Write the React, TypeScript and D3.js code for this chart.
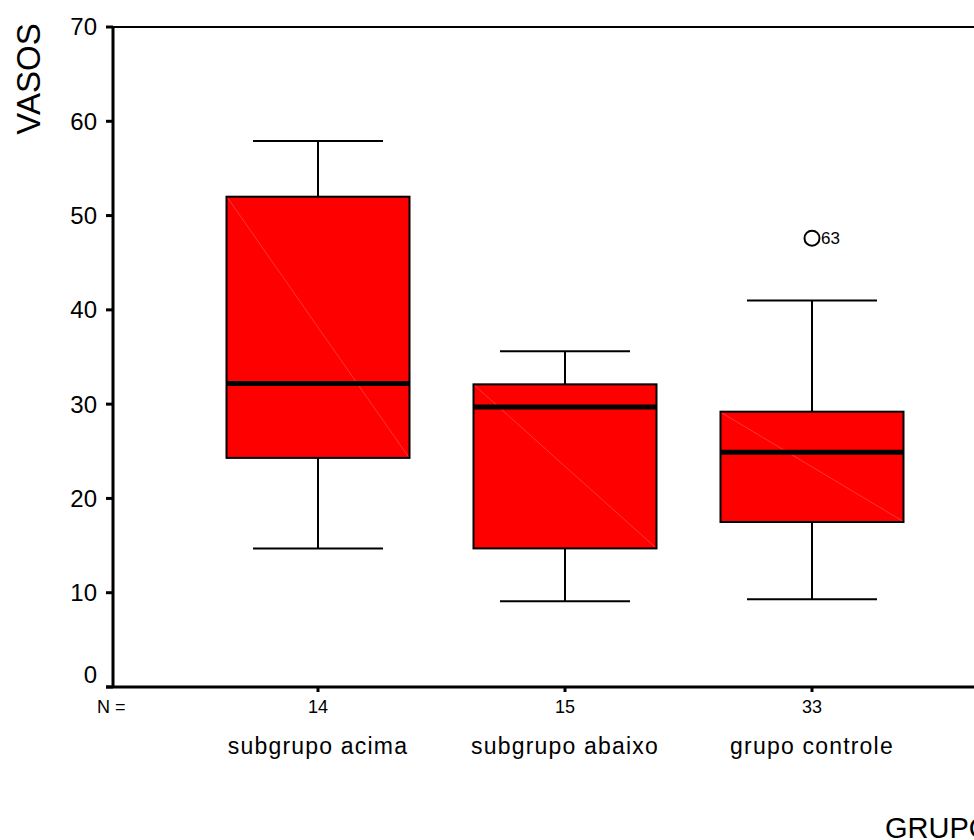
import { useEffect, useRef } from "react";
import * as d3 from "d3";

const groups = ["subgrupo acima", "subgrupo abaixo", "grupo controle"];
const counts = [14, 15, 33];
const whiskerLow = [14.7, 9.1, 9.3];
const q1 = [24.3, 14.7, 17.5];
const medians = [32.2, 29.7, 24.9];
const q3 = [52.0, 32.1, 29.2];
const whiskerHigh = [57.9, 35.6, 41.0];
const outliers = [{ group: "grupo controle", value: 47.6, label: "63" }];
const yTicks = [0, 10, 20, 30, 40, 50, 60, 70];

export default function App() {
  const svgRef = useRef<SVGSVGElement>(null);

  useEffect(() => {
    const svg = d3.select(svgRef.current);
    svg.selectAll("*").remove();

    const font = "'Liberation Sans', Arial, sans-serif";
    const y = d3.scaleLinear().domain([0, 70]).range([687, 27]);
    const x = d3.scalePoint().domain(groups).range([113, 1017]).padding(0.83);
    const boxW = 183;
    const capW = 130;

    const data = groups.map((g, i) => ({
      g, n: counts[i], lo: whiskerLow[i], q1: q1[i], med: medians[i], q3: q3[i], hi: whiskerHigh[i],
    }));

    // frame: top line
    svg.append("line")
      .attr("x1", 113).attr("x2", 974)
      .attr("y1", y(70)).attr("y2", y(70))
      .attr("stroke", "#000").attr("stroke-width", 2);

    // whiskers
    const wg = svg.append("g").attr("stroke", "#000").attr("stroke-width", 2);
    data.forEach(d => {
      const cx = x(d.g)!;
      wg.append("line").attr("x1", cx).attr("x2", cx).attr("y1", y(d.hi)).attr("y2", y(d.q3));
      wg.append("line").attr("x1", cx).attr("x2", cx).attr("y1", y(d.q1)).attr("y2", y(d.lo));
      wg.append("line").attr("x1", cx - capW / 2).attr("x2", cx + capW / 2).attr("y1", y(d.hi)).attr("y2", y(d.hi));
      wg.append("line").attr("x1", cx - capW / 2).attr("x2", cx + capW / 2).attr("y1", y(d.lo)).attr("y2", y(d.lo));
    });

    // boxes
    data.forEach(d => {
      const cx = x(d.g)!;
      svg.append("rect")
        .attr("x", cx - boxW / 2).attr("y", y(d.q3))
        .attr("width", boxW).attr("height", y(d.q1) - y(d.q3))
        .attr("fill", "#ff0000").attr("stroke", "#000").attr("stroke-width", 2);
      svg.append("line")
        .attr("x1", cx - boxW / 2 + 1).attr("y1", y(d.q3) + 1)
        .attr("x2", cx + boxW / 2 - 1).attr("y2", y(d.q1) - 1)
        .attr("stroke", "#ff8080").attr("stroke-width", 0.6).attr("opacity", 0.7);
      svg.append("line")
        .attr("x1", cx - boxW / 2).attr("x2", cx + boxW / 2)
        .attr("y1", y(d.med)).attr("y2", y(d.med))
        .attr("stroke", "#000").attr("stroke-width", 5);
    });

    // outliers
    outliers.forEach(o => {
      const cx = x(o.group)!;
      svg.append("circle").attr("cx", cx).attr("cy", y(o.value)).attr("r", 7.5)
        .attr("fill", "none").attr("stroke", "#000").attr("stroke-width", 2);
      svg.append("text").attr("x", cx + 9).attr("y", y(o.value)).attr("dy", "0.35em")
        .attr("font-family", font).attr("font-size", 17).text(o.label);
    });

    // y axis
    svg.append("line").attr("x1", 113).attr("x2", 113).attr("y1", y(70) - 1).attr("y2", y(0) + 1)
      .attr("stroke", "#000").attr("stroke-width", 3);
    yTicks.forEach(t => {
      svg.append("line").attr("x1", 106).attr("x2", 113).attr("y1", y(t)).attr("y2", y(t))
        .attr("stroke", "#000").attr("stroke-width", 3);
      svg.append("text").attr("x", 97).attr("y", y(t)).attr("dy", t === 0 ? "-0.15em" : "0.35em")
        .attr("text-anchor", "end").attr("font-family", font).attr("font-size", 24).text(String(t));
    });

    // x axis
    svg.append("line").attr("x1", 106).attr("x2", 974).attr("y1", y(0)).attr("y2", y(0))
      .attr("stroke", "#000").attr("stroke-width", 3);
    data.forEach(d => {
      const cx = x(d.g)!;
      svg.append("line").attr("x1", cx).attr("x2", cx).attr("y1", y(0)).attr("y2", y(0) + 5)
        .attr("stroke", "#000").attr("stroke-width", 3);
      svg.append("text").attr("x", cx).attr("y", 713).attr("text-anchor", "middle")
        .attr("font-family", font).attr("font-size", 18).text(String(d.n));
      svg.append("text").attr("x", cx).attr("y", 754).attr("text-anchor", "middle")
        .attr("font-family", font).attr("font-size", 23).attr("letter-spacing", 1.2).text(d.g);
    });
    svg.append("text").attr("x", 97).attr("y", 713)
      .attr("font-family", font).attr("font-size", 18).text("N =");

    // axis titles
    svg.append("text").attr("transform", "translate(40,79) rotate(-90)")
      .attr("text-anchor", "middle").attr("font-family", font).attr("font-size", 33).text("VASOS");
    svg.append("text").attr("x", 885).attr("y", 838)
      .attr("font-family", font).attr("font-size", 29).text("GRUPO");
  }, []);

  return (
    <svg ref={svgRef} width={974} height={840}
      style={{ position: "absolute", left: 0, top: 0, background: "#fff" }} />
  );
}
